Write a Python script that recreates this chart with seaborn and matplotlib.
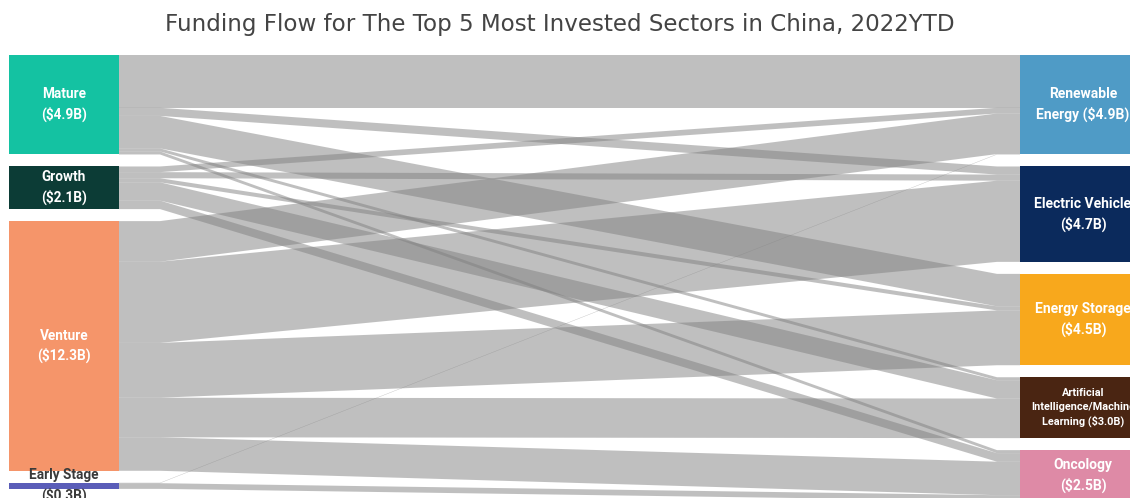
import matplotlib
matplotlib.use("Agg")
import matplotlib.pyplot as plt
import seaborn as sns

# Funding stages (sources) and sectors (targets), values in $B
stages = ["Mature", "Growth", "Venture", "Early Stage"]
stage_labels = ["Mature\n($4.9B)", "Growth\n($2.1B)", "Venture\n($12.3B)", "Early Stage\n($0.3B)"]
stage_totals = [4.9, 2.1, 12.3, 0.3]
stage_colors = ["#14c2a2", "#0c3c36", "#f5956a", "#5a5db8"]

sectors = ["Renewable Energy", "Electric Vehicle", "Energy Storage",
           "Artificial Intelligence/Machine Learning", "Oncology"]
sector_labels = ["Renewable\nEnergy ($4.9B)", "Electric Vehicle\n($4.7B)",
                 "Energy Storage\n($4.5B)",
                 "Artificial\nIntelligence/Machine\nLearning ($3.0B)", "Oncology\n($2.5B)"]
sector_totals = [4.9, 4.7, 4.5, 3.0, 2.5]
sector_colors = ["#4f9bc6", "#0b2a5c", "#f8a81c", "#4a2512", "#de8aa6"]

# Flow from each stage to each sector, in sector order ($B)
mature_flows = [2.6, 0.4, 1.6, 0.15, 0.15]
growth_flows = [0.28, 0.3, 0.2, 0.9, 0.42]
venture_flows = [2.0, 4.0, 2.7, 1.95, 1.65]
early_flows = [0.02, 0.0, 0.0, 0.0, 0.28]
flows = [mature_flows, growth_flows, venture_flows, early_flows]

sns.set_theme(style="white")
plt.rcParams["font.family"] = ["Roboto", "DejaVu Sans"]

W, H, DPI = 1137, 498, 100
fig = plt.figure(figsize=(W / DPI, H / DPI), dpi=DPI)
ax = fig.add_axes([0, 0, 1, 1])

# layout (x in canvas units, y in $B with a fixed gap between nodes)
px_per_b = 20.3
gap = 12 / px_per_b
top_pad = 55 / px_per_b
node_w = 110
left_x0, right_x0 = 9, 1020
bend_l, bend_r = 160, 997


def stack(totals):
    pos, y = [], 0.0
    for t in totals:
        pos.append(y)
        y += t + gap
    return pos


src_y = stack(stage_totals)
dst_y = stack(sector_totals)

# links: outgoing ordered by sector, incoming ordered by stage
src_off = list(src_y)
dst_off = list(dst_y)
for i, row in enumerate(flows):
    for j, v in enumerate(row):
        if v <= 0:
            continue
        a0, a1 = src_off[i], src_off[i] + v
        b0, b1 = dst_off[j], dst_off[j] + v
        src_off[i] = a1
        dst_off[j] = b1
        xs = [left_x0 + node_w, bend_l, bend_r, right_x0,
              right_x0, bend_r, bend_l, left_x0 + node_w]
        ys = [a0, a0, b0, b0, b1, b1, a1, a1]
        ax.fill(xs, ys, color="#818181", alpha=0.5, lw=0, zorder=1)

# nodes
ax.bar([left_x0 + node_w / 2] * len(stages), stage_totals, bottom=src_y,
       width=node_w, color=stage_colors, lw=0, zorder=2)
ax.bar([right_x0 + node_w / 2] * len(sectors), sector_totals, bottom=dst_y,
       width=node_w, color=sector_colors, lw=0, zorder=2)

for lab, y0, t in zip(stage_labels, src_y, stage_totals):
    thin = t < 0.5
    ax.text(left_x0 + node_w / 2, y0 + t / 2, lab, ha="center", va="center",
            fontsize=9.8, fontweight="bold", linespacing=1.45,
            color="#3a3a3a" if thin else "white", zorder=3)

for lab, y0, t in zip(sector_labels, dst_y, sector_totals):
    small = lab.count("\n") > 1
    ax.text(right_x0 + node_w / 2 + 8, y0 + t / 2, lab, ha="center", va="center",
            fontsize=7.8 if small else 10, fontweight="bold",
            linespacing=1.45, color="white", zorder=3)

ax.set_xlim(0, W)
ax.set_ylim((H - 55) / px_per_b, -top_pad)
ax.axis("off")

fig.text(560 / W, 1 - 24 / H,
         "Funding Flow for The Top 5 Most Invested Sectors in China, 2022YTD",
         ha="center", va="center", fontsize=16.6, color="#444444",
         family=["DejaVu Sans"])

fig.savefig("out.png", dpi=DPI, facecolor="white")
